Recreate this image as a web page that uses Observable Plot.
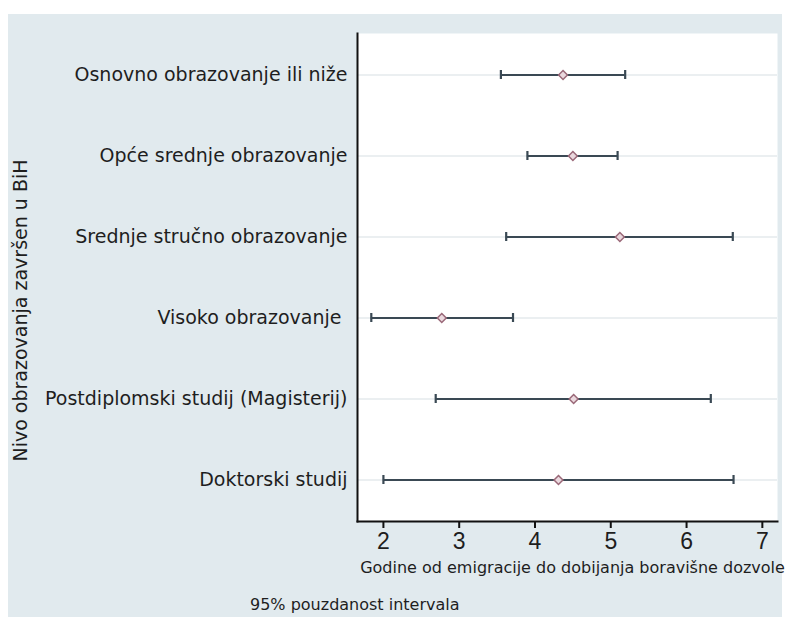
<!DOCTYPE html>
<html>
<head>
<meta charset="utf-8">
<script src="https://cdn.jsdelivr.net/npm/d3@7"></script>
<script src="https://cdn.jsdelivr.net/npm/@observablehq/plot@0.6"></script>
<style>
  html, body { margin: 0; padding: 0; background: #ffffff; }
  #wrap { position: relative; width: 790px; height: 617px; overflow: hidden; }
  #panel { position: absolute; left: 8px; top: 14px; width: 774px; height: 603px; background: #e1eaee; }
  #chart { position: absolute; left: 0; top: 0; }
  #caption { position: absolute; left: 250px; top: 595px; font-family: "DejaVu Sans", sans-serif; font-size: 16px; line-height: 20px; color: #1e1e1e; white-space: nowrap; }
</style>
</head>
<body>
<div id="wrap">
  <div id="panel"></div>
  <div id="chart"></div>
  <div id="caption">95% pouzdanost intervala</div>
</div>
<script>
const categories = [
  "Osnovno obrazovanje ili niže",
  "Opće srednje obrazovanje",
  "Srednje stručno obrazovanje",
  "Visoko obrazovanje\u00a0",
  "Postdiplomski studij (Magisterij)",
  "Doktorski studij"
];
const means = [4.37, 4.50, 5.12, 2.77, 4.51, 4.31];
const lower = [3.55, 3.90, 3.62, 1.84, 2.69, 2.00];
const upper = [5.19, 5.09, 6.61, 3.71, 6.32, 6.62];
const xTicks = [2, 3, 4, 5, 6, 7];
const xLabel = "Godine od emigracije do dobijanja boravišne dozvole";
const yLabel = "Nivo obrazovanja završen u BiH";

const data = categories.map((c, i) => ({cat: c, mean: means[i], lo: lower[i], hi: upper[i]}));

const barColor = "#3a4954";

const chart = Plot.plot({
  width: 790,
  height: 595,
  marginTop: 33,
  marginBottom: 74,
  marginLeft: 357,
  marginRight: 13,
  style: {background: "transparent", fontFamily: "DejaVu Sans, sans-serif", color: "#1e1e1e", overflow: "visible"},
  x: {domain: [1.658, 7.2]},
  y: {type: "band", domain: categories, paddingInner: 0.889, paddingOuter: 0.4445},
  marks: [
    Plot.frame({fill: "white", stroke: "none"}),
    Plot.gridY({stroke: "#e4eaed", strokeOpacity: 1, strokeWidth: 1.5}),
    Plot.frame({anchor: "left", stroke: "#111", strokeWidth: 2}),
    Plot.frame({anchor: "bottom", stroke: "#111", strokeWidth: 2}),
    Plot.axisY({tickSize: 0, tickPadding: 10, fontSize: 19, label: null}),
    Plot.axisX({ticks: xTicks, tickFormat: "d", tickSize: 7, tickPadding: 4, strokeWidth: 2, stroke: "#111", fontSize: 23, fontFamily: "Liberation Sans, Arial, sans-serif", label: null}),
    Plot.text([xLabel], {text: d => d, frameAnchor: "bottom", dy: 51, dx: 5, fontSize: 16, fill: "#1e1e1e"}),
    Plot.text([yLabel], {text: d => d, frameAnchor: "left", textAnchor: "middle", rotate: -90, dx: -337, dy: 33, fontSize: 19, fill: "#1e1e1e"}),
    Plot.ruleY(data, {y: "cat", x1: "lo", x2: "hi", stroke: barColor, strokeWidth: 2.2}),
    Plot.tickX(data, {y: "cat", x: "lo", stroke: barColor, strokeWidth: 2.2}),
    Plot.tickX(data, {y: "cat", x: "hi", stroke: barColor, strokeWidth: 2.2}),
    Plot.dot(data, {y: "cat", x: "mean", symbol: "diamond2", r: 4, fill: "#ead8de", stroke: "#9a6878", strokeWidth: 1.5})
  ]
});
document.getElementById("chart").appendChild(chart);
</script>
</body>
</html>
